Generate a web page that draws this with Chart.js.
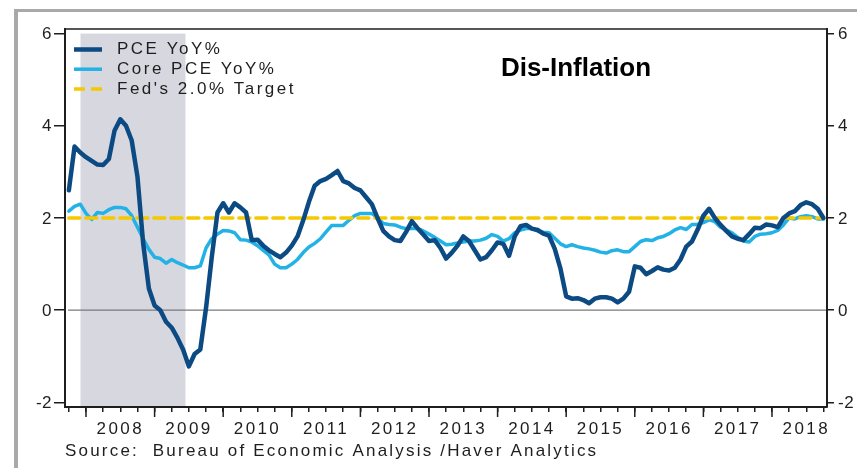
<!DOCTYPE html>
<html><head><meta charset="utf-8">
<script src="https://cdn.jsdelivr.net/npm/chart.js@4.4.1/dist/chart.umd.min.js"></script>
<style>
html,body{margin:0;padding:0;background:#fff;}
#wrap{position:relative;width:857px;height:468px;overflow:hidden;}
canvas{display:block;}
</style></head><body>
<div id="wrap"><canvas id="c" width="857" height="468"></canvas></div>
<script>
// ---- data (monthly, starting October 2007) ----
const startYear = 2007;
const startMonth = 10;
const pce = [
  2.6, 3.55, 3.42,
  3.32, 3.24, 3.16, 3.15, 3.28, 3.9, 4.14, 4.0, 3.68, 2.9, 1.45, 0.47,
  0.1, 0.0, -0.25, -0.38, -0.6, -0.86, -1.22, -0.95, -0.85, 0.05, 1.15, 2.12,
  2.32, 2.12, 2.32, 2.23, 2.12, 1.52, 1.53, 1.4, 1.3, 1.22, 1.15, 1.25,
  1.4, 1.6, 1.95, 2.35, 2.7, 2.8, 2.85, 2.93, 3.02, 2.8, 2.75, 2.65,
  2.6, 2.45, 2.3, 2.0, 1.72, 1.6, 1.52, 1.5, 1.7, 1.93, 1.78, 1.64,
  1.5, 1.52, 1.35, 1.12, 1.25, 1.4, 1.6, 1.5, 1.3, 1.1, 1.15, 1.3,
  1.47, 1.44, 1.18, 1.6, 1.82, 1.85, 1.77, 1.74, 1.66, 1.62, 1.33, 0.9,
  0.3, 0.25, 0.26, 0.22, 0.15, 0.25, 0.28, 0.28, 0.25, 0.17, 0.25, 0.4,
  0.95, 0.92, 0.78, 0.85, 0.93, 0.88, 0.86, 0.92, 1.1, 1.38, 1.49, 1.75,
  2.05, 2.2, 2.0, 1.85, 1.72, 1.6, 1.55, 1.52, 1.65, 1.79, 1.78, 1.86,
  1.84, 1.8, 2.0, 2.1, 2.15, 2.28, 2.34, 2.3, 2.2, 2.0
];
const corePce = [
  2.15, 2.25, 2.3,
  2.1, 1.97, 2.12, 2.1, 2.18, 2.23, 2.23, 2.2, 2.05, 1.8, 1.55, 1.32,
  1.15, 1.12, 1.02, 1.1, 1.03, 0.98, 0.92, 0.92, 0.96, 1.35, 1.55, 1.65,
  1.73, 1.72, 1.68, 1.53, 1.52, 1.48, 1.4, 1.3, 1.2, 1.0, 0.92, 0.92,
  1.0, 1.1, 1.25, 1.37, 1.45, 1.55, 1.7, 1.84, 1.84, 1.84, 1.95, 2.05,
  2.1, 2.1, 2.1, 2.0, 1.88, 1.86, 1.85, 1.8, 1.77, 1.77, 1.77, 1.72,
  1.65, 1.58, 1.5, 1.42, 1.43, 1.46, 1.48, 1.5, 1.5, 1.52, 1.56, 1.64,
  1.6, 1.5, 1.55, 1.68, 1.74, 1.77, 1.77, 1.72, 1.69, 1.68, 1.56, 1.44,
  1.38, 1.42, 1.38, 1.35, 1.33, 1.3, 1.26, 1.24, 1.29, 1.31, 1.27, 1.27,
  1.38, 1.49, 1.53, 1.51, 1.57, 1.6, 1.66, 1.74, 1.79, 1.75, 1.86, 1.86,
  1.9, 1.96, 1.92, 1.8, 1.74, 1.68, 1.58, 1.5, 1.48, 1.6, 1.65, 1.66,
  1.68, 1.73, 1.85, 2.0, 1.98, 2.03, 2.05, 2.03, 1.98, 1.98
];
const fedTarget = 2.0;
const yearLabels = ['2008','2009','2010','2011','2012','2013','2014','2015','2016','2017','2018'];
const yTickValues = [-2, 0, 2, 4, 6];
const recession = [2007.92, 2009.45];
const seriesNames = ['PCE YoY%', 'Core PCE YoY%', "Fed's 2.0% Target"];
const titleText = 'Dis-Inflation';
const sourceText = 'Source:  Bureau of Economic Analysis /Haver Analytics';

// ---- styles ----
const C_PCE = '#0b4a82';
const C_CORE = '#22b2e6';
const C_TGT = '#f5c800';
const C_AXIS = '#1e1e1e';
const FONT = "'Liberation Sans', Arial, Helvetica, sans-serif";
const X_MIN = 2007.694, X_MAX = 2018.802;

const tOf = i => startYear + (startMonth - 1 + i) / 12;
const pcePts = pce.map((v, i) => ({x: tOf(i), y: v}));
const corePts = corePce.map((v, i) => ({x: tOf(i), y: v}));
const tgtPts = [{x: tOf(0), y: fedTarget}, {x: tOf(pce.length - 1), y: fedTarget}];

Chart.defaults.font.family = FONT;
Chart.defaults.font.size = 17;
Chart.defaults.color = C_AXIS;

const decor = {
  id: 'decor',
  beforeDraw(chart) {
    const ctx = chart.ctx, a = chart.chartArea;
    const xs = chart.scales.x, ys = chart.scales.y;
    ctx.save();
    ctx.fillStyle = '#ffffff';
    ctx.fillRect(0, 0, chart.width, chart.height);
    // outer frame
    ctx.fillStyle = '#a9a9a9';
    ctx.fillRect(14, 9, chart.width, 3);
    ctx.fillRect(14, 9, 4, chart.height);
    // recession shading
    const x0 = xs.getPixelForValue(recession[0]);
    const x1 = xs.getPixelForValue(recession[1]);
    const yTop = ys.getPixelForValue(6);
    ctx.fillStyle = '#d7d7df';
    ctx.fillRect(x0, yTop, x1 - x0, a.bottom - yTop - 1);
    // zero line
    const y0 = ys.getPixelForValue(0);
    ctx.strokeStyle = '#7a7a7a';
    ctx.lineWidth = 1.2;
    ctx.beginPath();
    ctx.moveTo(a.left + 3, y0);
    ctx.lineTo(a.right, y0);
    ctx.stroke();
    // top border
    ctx.strokeStyle = C_AXIS;
    ctx.lineWidth = 1.5;
    ctx.beginPath();
    ctx.moveTo(a.left, a.top);
    ctx.lineTo(a.right, a.top);
    ctx.stroke();
    ctx.restore();
    ctx.letterSpacing = '2.4px';
  },
  afterDraw(chart) {
    const ctx = chart.ctx, a = chart.chartArea;
    const xs = chart.scales.x, yl = chart.scales.y, yr = chart.scales.y2;
    ctx.save();
    // longer year ticks
    ctx.strokeStyle = C_AXIS;
    ctx.lineWidth = 1.5;
    yearLabels.forEach(y => {
      const px = xs.getPixelForValue(Number(y));
      ctx.beginPath();
      ctx.moveTo(px, a.bottom);
      ctx.lineTo(px, a.bottom + 10);
      ctx.stroke();
    });
    // y tick labels (both sides)
    ctx.font = '17px ' + FONT;
    ctx.fillStyle = C_AXIS;
    ctx.textBaseline = 'middle';
    ctx.letterSpacing = '0.5px';
    yTickValues.forEach(v => {
      const txt = String(v);
      ctx.textAlign = 'right';
      ctx.fillText(txt, yl.right - 13, yl.getPixelForValue(v) + 1);
      ctx.textAlign = 'left';
      ctx.fillText(txt, yr.left + 11, yr.getPixelForValue(v) + 1);
    });
    // legend
    const rows = [
      {c: C_PCE, w: 4.5, dash: []},
      {c: C_CORE, w: 3.5, dash: []},
      {c: C_TGT, w: 3.5, dash: [11, 6]}
    ];
    ctx.textAlign = 'left';
    rows.forEach((r, i) => {
      const yy = 49.5 + i * 19.7;
      ctx.strokeStyle = r.c;
      ctx.lineWidth = r.w;
      ctx.setLineDash(r.dash);
      ctx.beginPath();
      ctx.moveTo(74, yy);
      ctx.lineTo(102, yy);
      ctx.stroke();
      ctx.setLineDash([]);
      ctx.fillStyle = C_AXIS;
      ctx.letterSpacing = '2.5px';
      ctx.fillText(seriesNames[i], 117, yy);
    });
    // title
    ctx.letterSpacing = '0px';
    ctx.font = 'bold 26px ' + FONT;
    ctx.fillStyle = '#000';
    ctx.textAlign = 'center';
    ctx.fillText(titleText, 576, 69);
    // source
    ctx.font = '17px ' + FONT;
    ctx.textAlign = 'left';
    ctx.fillStyle = C_AXIS;
    ctx.letterSpacing = '2.2px';
    ctx.fillText(sourceText, 65, 451);
    ctx.restore();
    ctx.letterSpacing = '0px';
  }
};

const yAxisCommon = {
  type: 'linear',
  min: -2.1,
  max: 6.1,
  afterBuildTicks: s => { s.ticks = yTickValues.map(v => ({value: v})); },
  grid: {drawOnChartArea: false, color: C_AXIS, lineWidth: 1.5},
  border: {display: true, color: C_AXIS, width: 2},
  ticks: {display: false}
};

new Chart(document.getElementById('c'), {
  type: 'line',
  data: {
    datasets: [
      {label: seriesNames[0], data: pcePts, borderColor: C_PCE, borderWidth: 4.5, order: 1},
      {label: seriesNames[2], data: tgtPts, borderColor: C_TGT, borderWidth: 3.5, borderDash: [11, 6], order: 2},
      {label: seriesNames[1], data: corePts, borderColor: C_CORE, borderWidth: 3.5, order: 3}
    ]
  },
  options: {
    responsive: false,
    animation: false,
    devicePixelRatio: 1,
    layout: {padding: {top: 29, left: 0, right: 0, bottom: 0}},
    elements: {
      point: {radius: 0},
      line: {tension: 0, borderJoinStyle: 'round', borderCapStyle: 'round', fill: false}
    },
    plugins: {legend: {display: false}, tooltip: {enabled: false}, title: {display: false}},
    scales: {
      x: {
        type: 'linear',
        position: 'bottom',
        min: X_MIN,
        max: X_MAX,
        afterBuildTicks: s => {
          const t = [];
          for (let q = 2007.75; q <= 2018.76; q += 0.25) t.push({value: Math.round(q * 100) / 100});
          s.ticks = t;
        },
        afterFit: s => { s.height = 61; },
        grid: {drawOnChartArea: false, color: C_AXIS, lineWidth: 1.5, tickLength: 5},
        border: {display: true, color: C_AXIS, width: 2},
        ticks: {
          autoSkip: false, maxRotation: 0, minRotation: 0, padding: 7,
          font: {size: 17}, color: C_AXIS,
          callback: v => {
            const yr = Math.floor(v);
            if (Math.abs(v - yr - 0.5) < 1e-6 && yearLabels.includes(String(yr))) return String(yr);
            return '';
          }
        }
      },
      y: Object.assign({}, yAxisCommon, {
        position: 'left',
        afterFit: s => { s.width = 65; },
        grid: Object.assign({}, yAxisCommon.grid, {tickLength: 11})
      }),
      y2: Object.assign({}, yAxisCommon, {
        position: 'right',
        afterFit: s => { s.width = 30; },
        grid: Object.assign({}, yAxisCommon.grid, {tickLength: 7})
      })
    }
  },
  plugins: [decor]
});
</script>
</body></html>
